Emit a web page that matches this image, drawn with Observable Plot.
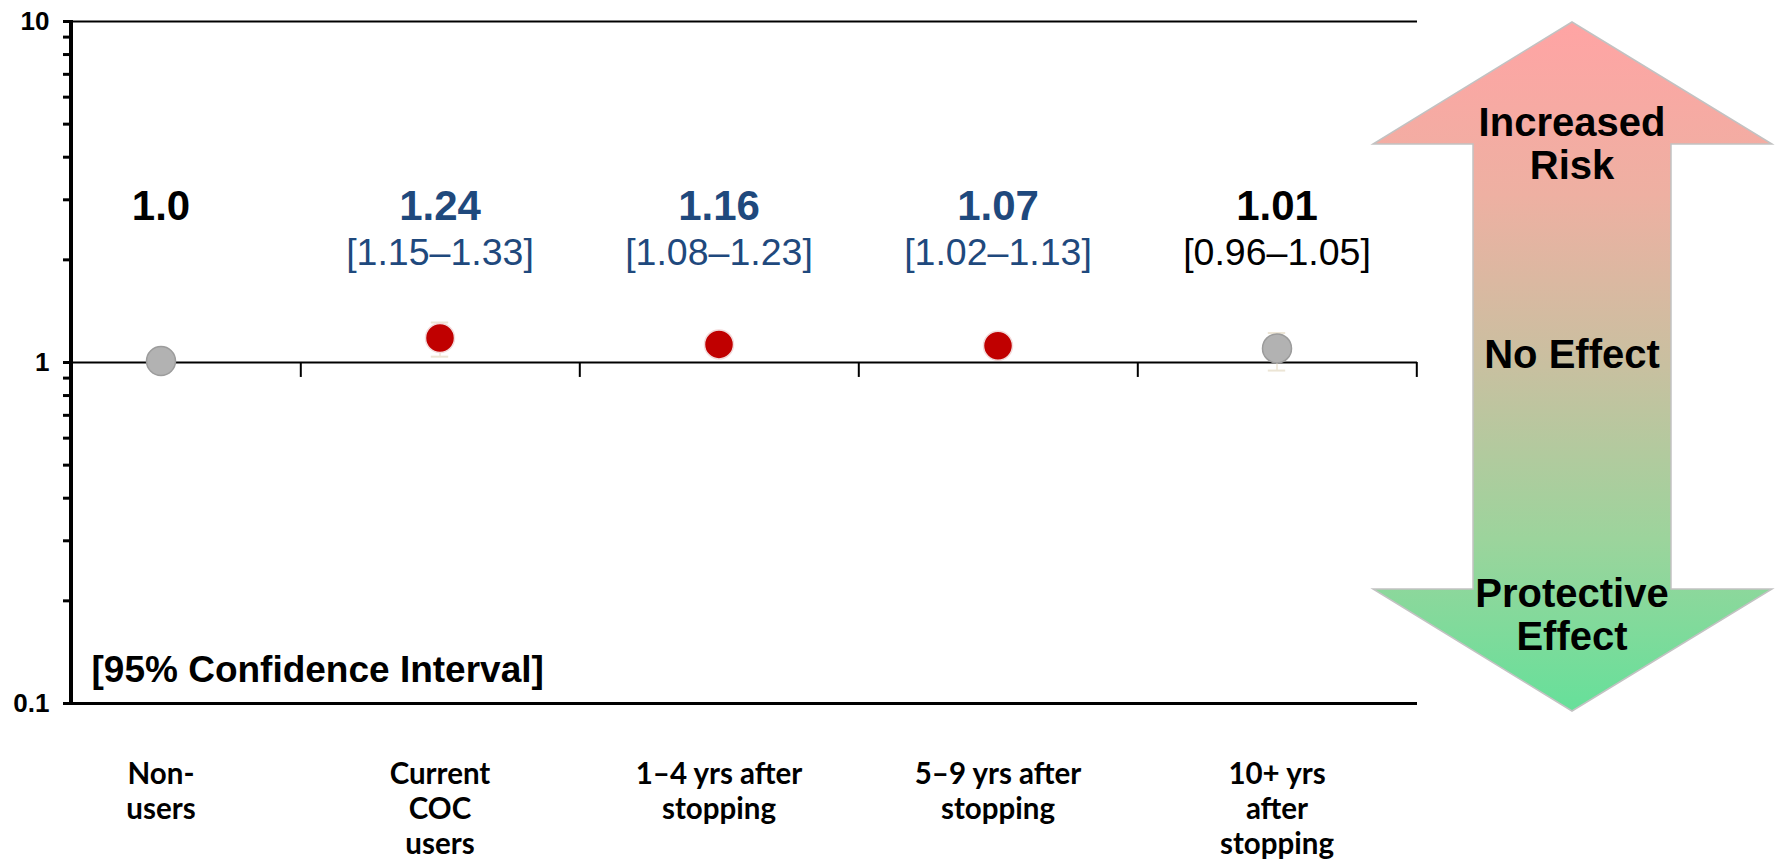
<!DOCTYPE html>
<html><head><meta charset="utf-8">
<script src="https://cdn.jsdelivr.net/npm/d3@7"></script>
<script src="https://cdn.jsdelivr.net/npm/@observablehq/plot@0.6"></script>
<style>body{margin:0;background:#fff}</style>
</head><body><div id="chart"></div>
<script>
// ---- data ----
const categories = ["Non-users", "Current COC users", "1–4 yrs after stopping", "5–9 yrs after stopping", "10+ yrs after stopping"];
const categoryLabels = ["Non-\nusers", "Current\nCOC\nusers", "1–4 yrs after\nstopping", "5–9 yrs after\nstopping", "10+ yrs\nafter\nstopping"];
const oddsRatio = [1.0, 1.24, 1.16, 1.07, 1.01];
const ciLower = [null, 1.15, 1.08, 1.02, 0.96];
const ciUpper = [null, 1.33, 1.23, 1.13, 1.05];
// marker positions as drawn in the source figure
const markerValue = [1.01, 1.18, 1.13, 1.12, 1.10];
const markerBarLow = [null, 1.04, null, null, 0.947];
const markerBarHigh = [null, 1.31, null, null, 1.22];
const yTickValues = [0.1, 1, 10];
const yTickLabels = ["0.1", "1", "10"];
const yMinorTicks = [0.2, 0.3, 0.4, 0.5, 0.6, 0.7, 0.8, 0.9, 2, 3, 4, 5, 6, 7, 8, 9];
const ciNote = "[95% Confidence Interval]";
const arrowTop = ["Increased", "Risk"];
const arrowMid = "No Effect";
const arrowBottom = ["Protective", "Effect"];

// ---- build ----
const rows = categories.map((c, i) => ({
  cat: c, or: oddsRatio[i], lo: ciLower[i], hi: ciUpper[i],
  my: markerValue[i], bl: markerBarLow[i], bh: markerBarHigh[i]
}));
const sig = d => d.lo != null && d.lo > 1;
const blue = "#1F497D";
const xRange = [19, 1417];
const bandW = (xRange[1] - xRange[0]) / categories.length;
const labelOf = new Map(categories.map((c, i) => [c, categoryLabels[i]]));
const tickLabelOf = new Map(yTickValues.map((v, i) => [v, yTickLabels[i]]));
const fmtOR = d => d.lo == null ? d.or.toFixed(1) : d.or.toFixed(2);

function decorations(index, scales, values, dims) {
  const g = d3.create("svg:g");
  // y axis line
  g.append("line")
    .attr("x1", dims.marginLeft).attr("x2", dims.marginLeft)
    .attr("y1", dims.marginTop - 1).attr("y2", dims.height - dims.marginBottom + 1.5)
    .attr("stroke", "#000").attr("stroke-width", 4);
  // double arrow
  const defs = g.append("defs");
  const grad = defs.append("linearGradient").attr("id", "riskGrad")
    .attr("x1", 0).attr("y1", 0).attr("x2", 0).attr("y2", 1);
  [[0, "#ffa4a4"], [0.25, "#eeb0a2"], [0.5, "#c8c0a0"], [0.75, "#9cd49c"], [1, "#66e09a"]]
    .forEach(([o, c]) => grad.append("stop").attr("offset", o).attr("stop-color", c));
  const cx = 1572, top = scales.y(10) + 1, bottom = scales.y(0.1) + 8;
  const headL = 1373, headR = 1772, shaftL = 1473, shaftR = 1671, headLen = 122;
  const pts = [
    [cx, top], [headR, top + headLen], [shaftR, top + headLen], [shaftR, bottom - headLen],
    [headR, bottom - headLen], [cx, bottom], [headL, bottom - headLen], [shaftL, bottom - headLen],
    [shaftL, top + headLen], [headL, top + headLen]
  ];
  g.append("polygon").attr("points", pts.map(p => p.join(",")).join(" "))
    .attr("fill", "url(#riskGrad)").attr("stroke", "#c2c2c2").attr("stroke-width", 1.5);
  const t = (txt, y) => g.append("text").text(txt).attr("x", cx).attr("y", y)
    .attr("text-anchor", "middle").attr("font-size", 40).attr("font-weight", "bold")
    .attr("font-family", "'Liberation Sans', Arial, sans-serif").attr("fill", "#000");
  t(arrowTop[0], 136); t(arrowTop[1], 179);
  t(arrowMid, 368);
  t(arrowBottom[0], 607); t(arrowBottom[1], 650);
  return g.node();
}

const chart = Plot.plot({
  width: 1775, height: 859,
  marginTop: 21, marginBottom: 156, marginLeft: 71, marginRight: 358,
  style: {fontFamily: "'Liberation Sans', Arial, sans-serif", background: "#fff", color: "#000", overflow: "visible"},
  x: {type: "band", domain: categories, range: xRange, padding: 0},
  y: {type: "log", domain: [0.1, 10], range: [703, 21]},
  color: {type: "identity"},
  marks: [
    Plot.ruleY([10], {stroke: "#000", strokeWidth: 2}),
    Plot.ruleY([1], {stroke: "#000", strokeWidth: 2}),
    Plot.ruleY([0.1], {stroke: "#000", strokeWidth: 3}),
    Plot.ruleX(categories, {x: d => d, y1: 1, y2: 0.904, dx: bandW / 2, stroke: "#000", strokeWidth: 2}),
    Plot.axisY({ticks: yMinorTicks, tickSize: 8, text: null, strokeWidth: 3, label: null}),
    Plot.axisY({ticks: yTickValues, tickSize: 8, tickPadding: 14, tickFormat: v => tickLabelOf.get(v),
      fontSize: 26, fontWeight: "bold", strokeWidth: 3, label: null}),
    Plot.axisX({tickSize: 0, tickPadding: 55, tickFormat: c => labelOf.get(c), label: null,
      fontFamily: "Lato, 'Open Sans', sans-serif", fontWeight: "bold", fontSize: 29.5,
      lineAnchor: "top", lineHeight: 1.2}),
    // faint error bars
    Plot.ruleX(rows.filter(d => d.bl != null), {x: "cat", y1: "bl", y2: "bh", stroke: "#ece5d5", strokeWidth: 1.5}),
    Plot.tickY(rows.filter(d => d.bl != null), {x: "cat", y: "bl", stroke: "#ece5d5", strokeWidth: 2, insetLeft: bandW / 2 - 9, insetRight: bandW / 2 - 9}),
    Plot.tickY(rows.filter(d => d.bh != null), {x: "cat", y: "bh", stroke: "#ece5d5", strokeWidth: 2, insetLeft: bandW / 2 - 9, insetRight: bandW / 2 - 9}),
    // markers
    Plot.dot(rows, {x: "cat", y: "my", r: 14.5,
      fill: d => sig(d) ? "#C00000" : "#B2B2B2",
      stroke: d => sig(d) ? "#f2dada" : "#9c9c9c", strokeWidth: 1.5}),
    // value labels
    Plot.text(rows, {x: "cat", text: fmtOR, frameAnchor: "top", dy: 198, lineAnchor: "bottom",
      fontSize: 42, fontWeight: "bold", fill: d => sig(d) ? blue : "#000"}),
    Plot.text(rows.filter(d => d.lo != null), {x: "cat", text: d => `[${d.lo.toFixed(2)}–${d.hi.toFixed(2)}]`,
      frameAnchor: "top", dy: 243, lineAnchor: "bottom", fontSize: 37.5,
      fill: d => sig(d) ? blue : "#000"}),
    Plot.text([ciNote], {frameAnchor: "bottom-left", dx: 20, dy: -22, lineAnchor: "bottom", textAnchor: "start",
      fontSize: 37, fontWeight: "bold", fill: "#000"}),
    decorations
  ]
});
document.getElementById("chart").appendChild(chart);
</script>
</body></html>
